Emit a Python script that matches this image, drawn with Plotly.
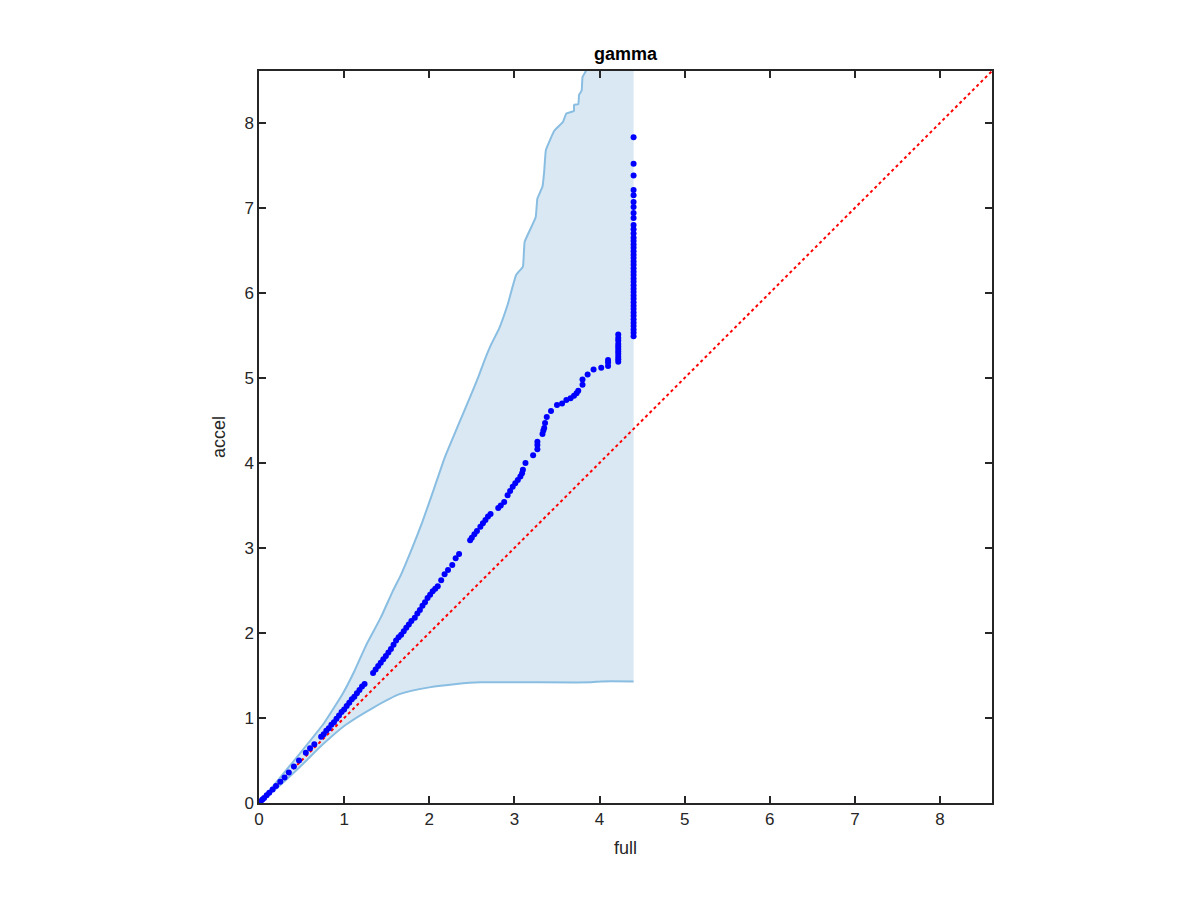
import plotly.graph_objects as go

# Upper envelope of the band
upper_x = [0.0, 0.10, 0.25, 0.47, 0.75, 0.98, 1.12, 1.26, 1.43, 1.57, 1.67, 1.80, 1.92, 2.05, 2.18,
           2.33, 2.49, 2.58, 2.65, 2.73, 2.82, 2.92, 3.02, 3.10, 3.12, 3.25, 3.27, 3.33, 3.35,
           3.37, 3.47, 3.57, 3.61, 3.70, 3.70, 3.75, 3.76, 3.79, 3.80, 3.84, 3.90]
upper_y = [0.0, 0.12, 0.30, 0.57, 0.92, 1.28, 1.55, 1.86, 2.18, 2.49, 2.69, 3.00, 3.31, 3.68, 4.06,
           4.42, 4.80, 5.02, 5.21, 5.40, 5.58, 5.86, 6.21, 6.31, 6.60, 6.89, 7.11, 7.25, 7.43,
           7.68, 7.91, 8.01, 8.11, 8.14, 8.21, 8.22, 8.33, 8.38, 8.54, 8.61, 8.75]
band_right = 4.40
band_top = 9.0

# Lower envelope of the band
lower_x = [0.0, 0.18, 0.47, 0.75, 1.02, 1.34, 1.65, 2.00, 2.32, 2.60, 3.90, 4.02, 4.40]
lower_y = [0.0, 0.15, 0.415, 0.69, 0.92, 1.12, 1.28, 1.36, 1.40, 1.42, 1.42, 1.43, 1.43]

# Scatter points (full vs accel)
pts_x = [0.0, 0.02, 0.04, 0.06, 0.09, 0.12, 0.16, 0.20, 0.25, 0.30, 0.35, 0.41, 0.47, 0.55, 0.60, 0.65,
         0.73, 0.76, 0.79, 0.82, 0.85, 0.88, 0.91, 0.94, 0.97, 1.00, 1.03, 1.06, 1.09, 1.12, 1.15, 1.18,
         1.21, 1.24,
         1.34, 1.37, 1.40, 1.43, 1.46, 1.49, 1.52, 1.55, 1.58, 1.61, 1.64, 1.67, 1.70, 1.73, 1.76, 1.79,
         1.83, 1.86, 1.89, 1.92, 1.95, 1.98, 2.01, 2.04, 2.07, 2.10, 2.14, 2.18, 2.22, 2.27, 2.31, 2.35,
         2.48, 2.50, 2.53, 2.56, 2.60, 2.63, 2.66, 2.69, 2.72,
         2.81, 2.84, 2.88, 2.92, 2.95, 2.98, 3.01, 3.04, 3.07, 3.09, 3.10, 3.13,
         3.22, 3.27, 3.27, 3.27, 3.33, 3.34, 3.35, 3.36, 3.38, 3.43, 3.50, 3.56, 3.61, 3.66, 3.70,
         3.73, 3.75, 3.80, 3.80, 3.86, 3.93, 4.02, 4.10, 4.10, 4.10,
         4.22, 4.22, 4.22, 4.22, 4.22, 4.22, 4.22, 4.22, 4.22, 4.22, 4.22,
         4.40, 4.40, 4.40, 4.40, 4.40, 4.40, 4.40, 4.40, 4.40, 4.40, 4.40, 4.40, 4.40, 4.40, 4.40,
         4.40, 4.40, 4.40, 4.40, 4.40, 4.40, 4.40, 4.40, 4.40, 4.40, 4.40, 4.40, 4.40, 4.40, 4.40,
         4.40, 4.40, 4.40, 4.40, 4.40, 4.40, 4.40, 4.40, 4.40, 4.40, 4.40, 4.40]
pts_y = [0.0, 0.02, 0.04, 0.06, 0.09, 0.12, 0.16, 0.20, 0.25, 0.30, 0.36, 0.43, 0.50, 0.59, 0.645, 0.69,
         0.78, 0.81, 0.85, 0.88, 0.92, 0.95, 0.99, 1.03, 1.07, 1.10, 1.14, 1.18, 1.22, 1.25, 1.29, 1.33,
         1.37, 1.40,
         1.53, 1.57, 1.61, 1.65, 1.69, 1.73, 1.77, 1.81, 1.86, 1.91, 1.95, 1.98, 2.02, 2.06, 2.10, 2.14,
         2.18, 2.23, 2.27, 2.32, 2.36, 2.41, 2.45, 2.49, 2.52, 2.55, 2.62, 2.69, 2.74, 2.80, 2.88, 2.93,
         3.09, 3.12, 3.16, 3.20, 3.25, 3.29, 3.33, 3.37, 3.40,
         3.47, 3.50, 3.54, 3.62, 3.67, 3.72, 3.76, 3.80, 3.84, 3.88, 3.92, 4.00,
         4.09, 4.16, 4.21, 4.25, 4.34, 4.38, 4.41, 4.47, 4.54, 4.61, 4.68, 4.70, 4.74, 4.76, 4.79,
         4.82, 4.85, 4.92, 4.98, 5.04, 5.10, 5.12, 5.14, 5.18, 5.21,
         5.19, 5.22, 5.25, 5.28, 5.31, 5.34, 5.37, 5.40, 5.44, 5.47, 5.51,
         5.49, 5.53, 5.57, 5.61, 5.65, 5.69, 5.73, 5.77, 5.81, 5.85, 5.89, 5.93, 5.97, 6.01, 6.05,
         6.09, 6.13, 6.17, 6.21, 6.25, 6.29, 6.33, 6.37, 6.41, 6.45, 6.49, 6.53, 6.57, 6.61, 6.65,
         6.70, 6.75, 6.80, 6.88, 6.94, 7.01, 7.07, 7.15, 7.21, 7.38, 7.52, 7.83]

axis_max = 8.61
ticks = [0, 1, 2, 3, 4, 5, 6, 7, 8]

fill_color = "rgb(217,232,243)"
edge_color = "rgb(137,190,226)"

# Closed polygon for the band fill
poly_x = upper_x + [band_right, band_right] + lower_x[::-1]
poly_y = upper_y + [band_top, lower_y[-1]] + lower_y[::-1]

fig = go.Figure()
fig.add_trace(go.Scatter(x=poly_x, y=poly_y, mode="lines", fill="toself",
                         fillcolor=fill_color, line=dict(width=0), hoverinfo="skip"))
fig.add_trace(go.Scatter(x=upper_x, y=upper_y, mode="lines",
                         line=dict(color=edge_color, width=2, shape="spline", smoothing=0.3)))
fig.add_trace(go.Scatter(x=lower_x, y=lower_y, mode="lines",
                         line=dict(color=edge_color, width=2, shape="spline", smoothing=0.6)))
fig.add_trace(go.Scatter(x=[0, axis_max], y=[0, axis_max], mode="lines",
                         line=dict(color="red", width=2, dash="dot")))
fig.add_trace(go.Scatter(x=pts_x, y=pts_y, mode="markers",
                         marker=dict(color="blue", size=6, line=dict(width=0))))

font_family = "Liberation Sans, Arial"
axis_common = dict(range=[0, axis_max], tickvals=ticks, showgrid=False, zeroline=False,
                   showline=True, linecolor="#262626", linewidth=1.5, mirror="ticks",
                   ticks="inside", ticklen=7, tickwidth=1.5, tickcolor="#262626",
                   tickfont=dict(family=font_family, size=17, color="#262626"))

fig.update_layout(
    width=1200, height=900,
    margin=dict(l=251, r=216, t=63, b=105),
    plot_bgcolor="white", paper_bgcolor="white",
    showlegend=False,
    title=dict(text="<b>gamma</b>", x=0.5, xref="paper", y=1, yref="paper",
               yanchor="bottom", pad=dict(b=11),
               font=dict(family=font_family, size=18, color="black")),
    xaxis=dict(**axis_common, title=dict(text="full", standoff=13,
               font=dict(family=font_family, size=18, color="#262626"))),
    yaxis=dict(**axis_common, title=dict(text="accel", standoff=14,
               font=dict(family=font_family, size=18, color="#262626"))),
)

fig.write_html("out.html")
